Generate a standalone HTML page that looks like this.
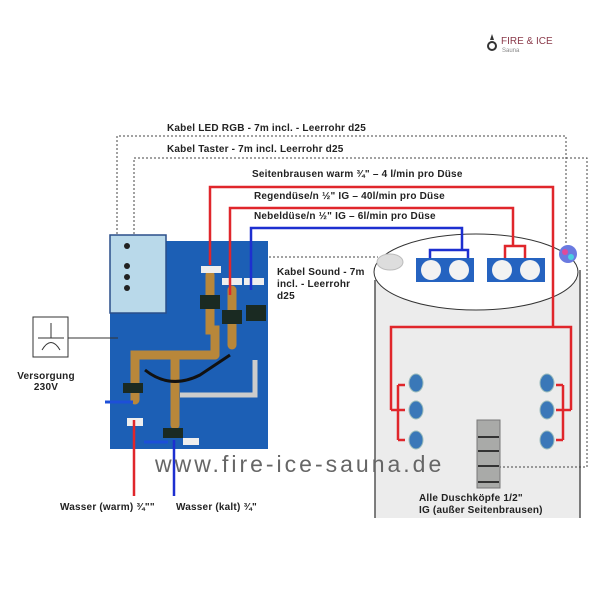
<!DOCTYPE html>
<html><head><meta charset="utf-8"><style>
html,body{margin:0;padding:0;background:#fff}
svg{display:block}
text{font-family:"Liberation Sans",sans-serif}
.b{font-weight:bold;font-size:10px;letter-spacing:0.2px;fill:#222}
</style></head><body>
<svg width="600" height="600" viewBox="0 0 600 600" xmlns="http://www.w3.org/2000/svg">
<circle cx="492" cy="46" r="4" fill="none" stroke="#333" stroke-width="2"/>
<path d="M490 40 l2 -6 l2 6z" fill="#333"/>
<text x="501" y="44" font-size="10" fill="#8a3a4a">FIRE &amp; ICE</text>
<text x="502" y="52" font-size="6" fill="#888">Sauna</text>

<rect x="375" y="272" width="205" height="246" fill="#ececec"/>
<line x1="375" y1="280" x2="375" y2="518" stroke="#555" stroke-width="1.5"/>
<line x1="580" y1="270" x2="580" y2="518" stroke="#555" stroke-width="1.5"/>
<ellipse cx="476" cy="272" rx="102" ry="38" fill="#fff" stroke="#333" stroke-width="1"/>

<g fill="none" stroke="#444" stroke-width="1" stroke-dasharray="2,2">
<path d="M117 238 V136 H566 V245"/>
<path d="M134 238 V158 H587 V467 H500"/>
<path d="M165 257 H378"/>
</g>

<rect x="110" y="241" width="158" height="208" fill="#1c5fb5"/>
<rect x="110" y="235" width="56" height="78" fill="#b9d9ea" stroke="#2a4f8a" stroke-width="1.5"/>
<g fill="#222"><circle cx="127" cy="246" r="3"/><circle cx="127" cy="266" r="3"/><circle cx="127" cy="277" r="3"/><circle cx="127" cy="288" r="3"/></g>
<g stroke="#b8873a" stroke-width="9" fill="none" stroke-linecap="round">
<path d="M135 400 V355 H215"/>
<path d="M175 360 V425"/>
<path d="M210 275 V330 H215 V355"/>
<path d="M232 290 V345"/>
</g>
<path d="M180 395 H255 V360" stroke="#ccc" stroke-width="5" fill="none"/>
<path d="M145 370 Q170 390 200 375 L230 355" stroke="#111" stroke-width="3" fill="none"/>
<g fill="#1a2a22"><rect x="200" y="295" width="20" height="14"/><rect x="222" y="310" width="20" height="14"/><rect x="246" y="305" width="20" height="16"/><rect x="123" y="383" width="20" height="10"/><rect x="163" y="428" width="20" height="10"/></g>
<g fill="#eee"><rect x="201" y="266" width="20" height="7"/><rect x="222" y="278" width="20" height="7"/><rect x="244" y="278" width="20" height="7"/><rect x="127" y="418" width="16" height="8"/><rect x="183" y="438" width="16" height="7"/></g>
<path d="M105 402 H133" stroke="#1d4fd8" stroke-width="3"/>
<path d="M144 442 H168" stroke="#1d4fd8" stroke-width="3"/>
<line x1="68" y1="338" x2="118" y2="338" stroke="#333" stroke-width="1"/>

<rect x="33" y="317" width="35" height="40" fill="#fff" stroke="#333" stroke-width="1"/>
<path d="M51 323 V338 M42 350 Q51 335 60 350 M38 338 H64" stroke="#333" stroke-width="1" fill="none"/>

<g fill="none" stroke-width="2.5">
<path d="M210 265 V187 H553 V327" stroke="#e0262b"/>
<path d="M230 295 V208 H513 V246" stroke="#e0262b"/>
<path d="M505 258 V246 H525 V258" stroke="#e0262b"/>
<path d="M251 290 V228 H462 V250" stroke="#1d2fd0"/>
<path d="M430 258 V250 H468 V258" stroke="#1d2fd0"/>
<path d="M134 420 V496" stroke="#e0262b"/>
<path d="M174 440 V496" stroke="#1d2fd0"/>
<path d="M391 410 V327 H571 V410" stroke="#e0262b"/>
<path d="M398 385 V440 M391 410 H398 M398 385 H405 M398 410 H405 M398 440 H405" stroke="#e0262b"/>
<path d="M563 385 V440 M571 410 H563 M563 385 H556 M563 410 H556 M563 440 H556" stroke="#e0262b"/>
</g>

<rect x="416" y="258" width="58" height="24" fill="#2563c0"/>
<rect x="487" y="258" width="58" height="24" fill="#2563c0"/>
<g fill="#f2f2f2"><circle cx="431" cy="270" r="10"/><circle cx="459" cy="270" r="10"/><circle cx="502" cy="270" r="10"/><circle cx="530" cy="270" r="10"/></g>
<ellipse cx="390" cy="262" rx="13" ry="8" fill="#ddd" stroke="#bbb"/>
<circle cx="568" cy="254" r="9" fill="#6a7ae0"/>
<circle cx="565" cy="252" r="3" fill="#e04a9a"/><circle cx="571" cy="257" r="3" fill="#4ad0e0"/>
<g fill="#3a78b8" stroke="#9bb" stroke-width="1">
<ellipse cx="416" cy="383" rx="7" ry="9"/><ellipse cx="416" cy="410" rx="7" ry="9"/><ellipse cx="416" cy="440" rx="7" ry="9"/>
<ellipse cx="547" cy="383" rx="7" ry="9"/><ellipse cx="547" cy="410" rx="7" ry="9"/><ellipse cx="547" cy="440" rx="7" ry="9"/>
</g>
<rect x="477" y="420" width="23" height="68" fill="#a9aaa8" stroke="#777"/>
<g stroke="#333" stroke-width="2"><line x1="478" y1="437" x2="499" y2="437"/><line x1="478" y1="451" x2="499" y2="451"/><line x1="478" y1="466" x2="499" y2="466"/><line x1="478" y1="482" x2="499" y2="482"/></g>

<text class="b" x="167" y="131">Kabel LED RGB - 7m incl. - Leerrohr d25</text>
<text class="b" x="167" y="152">Kabel Taster - 7m incl. Leerrohr d25</text>
<text class="b" x="252" y="177">Seitenbrausen warm ¾" – 4 l/min pro Düse</text>
<text class="b" x="254" y="199">Regendüse/n  ½" IG – 40l/min pro Düse</text>
<text class="b" x="254" y="219">Nebeldüse/n  ½" IG – 6l/min pro Düse</text>
<text class="b" x="277" y="275">Kabel Sound - 7m</text>
<text class="b" x="277" y="287">incl. - Leerrohr</text>
<text class="b" x="277" y="299">d25</text>
<text class="b" x="46" y="379" text-anchor="middle">Versorgung</text>
<text class="b" x="46" y="390" text-anchor="middle">230V</text>
<text class="b" x="60" y="510">Wasser (warm) ¾""</text>
<text class="b" x="176" y="510">Wasser (kalt) ¾"</text>
<text class="b" x="419" y="501">Alle Duschköpfe  1/2"</text>
<text class="b" x="419" y="513">IG (außer Seitenbrausen)</text>
<text x="155" y="472" font-size="23" fill="#666" letter-spacing="3">www.fire-ice-sauna.de</text>
</svg>
</body></html>
